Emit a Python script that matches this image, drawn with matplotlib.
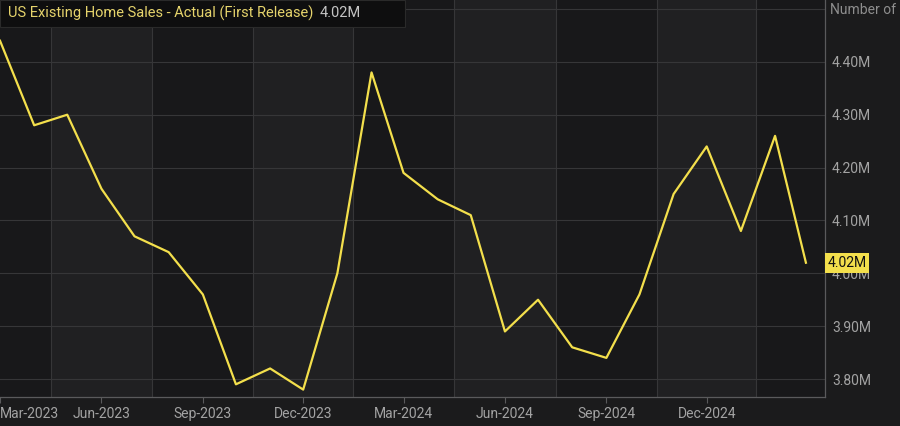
import datetime as dt
import matplotlib
matplotlib.use("Agg")
import matplotlib.pyplot as plt
import matplotlib.dates as mdates
from matplotlib.patches import Rectangle

# monthly existing home sales, first release (millions), Mar-2023 .. Mar-2025
start_year, start_month = 2023, 3
months = []
for i in range(25):
    m = start_month - 1 + i
    months.append(dt.date(start_year + m // 12, m % 12 + 1, 1))
sales = [4.44, 4.28, 4.30, 4.16, 4.07, 4.04, 3.96, 3.79, 3.82, 3.78,
         4.00, 4.38, 4.19, 4.14, 4.11, 3.89, 3.95, 3.86, 3.84, 3.96,
         4.15, 4.24, 4.08, 4.26, 4.02]
tick_dates = [dt.date(2023, 3, 1), dt.date(2023, 6, 1), dt.date(2023, 9, 1),
              dt.date(2023, 12, 1), dt.date(2024, 3, 1), dt.date(2024, 6, 1),
              dt.date(2024, 9, 1), dt.date(2024, 12, 1)]
tick_labels = ["Mar-2023", "Jun-2023", "Sep-2023", "Dec-2023",
               "Mar-2024", "Jun-2024", "Sep-2024", "Dec-2024"]
y_ticks = [3.80, 3.90, 4.00, 4.10, 4.20, 4.30, 4.40, 4.50]
title = "US Existing Home Sales - Actual (First Release)"
last_label = "4.02M"

bg = "#1b1b1c"
dark = "#18181a"
light = "#202022"
grid_c = "#363638"
txt_c = "#a3a3a3"
yellow = "#f3df4c"

plt.rcParams["font.family"] = ["Roboto", "DejaVu Sans"]

fig = plt.figure(figsize=(9, 4.26), dpi=100, facecolor=bg)
ax = fig.add_axes([0, 29 / 426, 825 / 900, 397 / 426])
ax.set_facecolor(dark)

x0 = mdates.date2num(dt.date(2023, 3, 1)) + 1
x1 = x0 + 24.55 * 30.44
ax.set_xlim(x0, x1)
ax.set_ylim(3.766, 4.517)

# vertical gridlines sit midway between the quarterly ticks, with alternating bands
qs = [dt.date(2022, 12, 1)] + tick_dates + [dt.date(2025, 3, 1), dt.date(2025, 6, 1)]
qn = [mdates.date2num(d) for d in qs]
mids = [(a + b) / 2 for a, b in zip(qn[:-1], qn[1:])]
for i in range(len(mids) - 1):
    if i % 2 == 1:
        ax.axvspan(mids[i], mids[i + 1], color=light, lw=0, zorder=0)
for m in mids:
    ax.axvline(m, color=grid_c, lw=0.8, zorder=1)
for y in y_ticks:
    ax.axhline(y, color=grid_c, lw=0.8, zorder=1)

ax.plot([mdates.date2num(d) for d in months], sales, color=yellow, lw=1.6, zorder=3)

for s in ["top", "left"]:
    ax.spines[s].set_visible(False)
for s in ["right", "bottom"]:
    ax.spines[s].set_color("#5a5a5c")
    ax.spines[s].set_linewidth(0.9)

ax.set_xticks([mdates.date2num(d) for d in tick_dates])
ax.set_xticklabels(tick_labels)
ax.tick_params(axis="x", colors="#5a5a5c", labelcolor=txt_c, labelsize=10,
               length=4, width=0.8, pad=3)
ax.get_xticklabels()[0].set_horizontalalignment("left")

ax.yaxis.tick_right()
ax.set_yticks(y_ticks[:-1])
ax.set_yticklabels([f"{v:.2f}M" for v in y_ticks[:-1]])
ax.tick_params(axis="y", length=0, labelcolor=txt_c, labelsize=10, pad=5)

# last value tag on the right axis (covers the 4.00M label, as in the original)
ax.text(1.003, sales[-1], last_label, transform=ax.get_yaxis_transform(),
        ha="left", va="center", fontsize=10, color="#111111", zorder=5,
        bbox=dict(boxstyle="square,pad=0.2", fc=yellow, ec="none"))

fig.text(830 / 900, 1 - 10 / 426, "Number of", color="#8e8e8e", fontsize=10,
         ha="left", va="center")

# title box
fig.patches.append(Rectangle((0, 1 - 27 / 426), 405 / 900, 27 / 426,
                             transform=fig.transFigure, fc="#0e0e0f",
                             ec="#2a2a2a", lw=0.8, zorder=4))
t = fig.text(8 / 900, 1 - 13 / 426, title, color="#e6d46c", fontsize=10.5,
             ha="left", va="center", zorder=5)
fig.canvas.draw()
bb = t.get_window_extent()
fig.text((bb.x1 + 6) / 900, 1 - 13 / 426, last_label, color="#c4c4c4",
         fontsize=10.5, ha="left", va="center", zorder=5)

fig.savefig("out.png", dpi=100, facecolor=bg)
